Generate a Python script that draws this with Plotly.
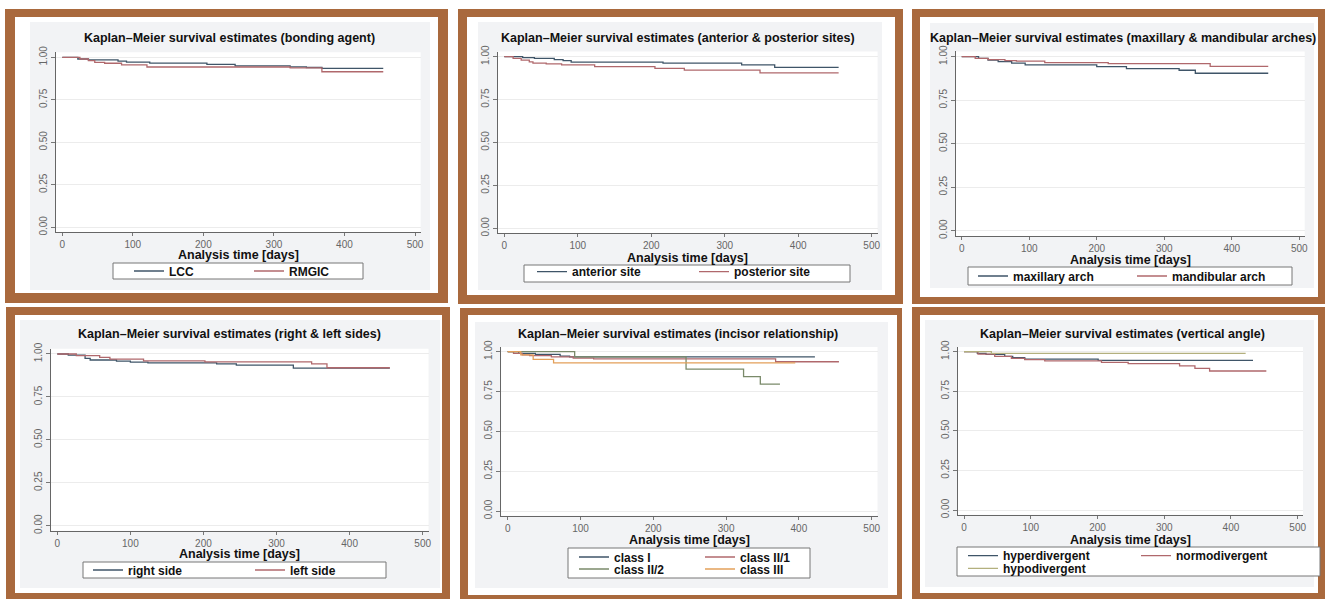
import plotly.graph_objects as go

W, H = 1325, 599

# ---------------- data ----------------
titles = [
    "Kaplan–Meier survival estimates (bonding agent)",
    "Kaplan–Meier survival estimates (anterior & posterior sites)",
    "Kaplan–Meier survival estimates (maxillary & mandibular arches)",
    "Kaplan–Meier survival estimates (right & left sides)",
    "Kaplan–Meier survival estimates (incisor relationship)",
    "Kaplan–Meier survival estimates (vertical angle)",
]
x_title = "Analysis time [days]"
x_ticks = [0, 100, 200, 300, 400, 500]
y_ticks = [0.00, 0.25, 0.50, 0.75, 1.00]

# panel 1: bonding agent
lcc_t = [0, 22, 37, 79, 91, 124, 205, 245, 323, 346, 368, 455]
lcc_s = [1.0, 0.99, 0.985, 0.978, 0.972, 0.966, 0.958, 0.95, 0.944, 0.94, 0.935, 0.935]
rmgic_t = [0, 25, 37, 46, 60, 84, 120, 323, 368, 455]
rmgic_s = [1.0, 0.99, 0.98, 0.97, 0.965, 0.955, 0.943, 0.938, 0.915, 0.915]

# panel 2: anterior & posterior sites
ant_t = [0, 25, 41, 68, 80, 91, 216, 323, 368, 455]
ant_s = [1.0, 0.995, 0.99, 0.983, 0.977, 0.968, 0.962, 0.952, 0.938, 0.938]
post_t = [0, 12, 23, 34, 39, 57, 78, 123, 205, 245, 348, 455]
post_s = [1.0, 0.99, 0.98, 0.97, 0.962, 0.958, 0.952, 0.942, 0.932, 0.922, 0.906, 0.906]

# panel 3: maxillary & mandibular arches
max_t = [0, 25, 39, 54, 74, 94, 200, 244, 322, 346, 454]
max_s = [1.0, 0.99, 0.98, 0.972, 0.963, 0.953, 0.943, 0.932, 0.922, 0.905, 0.905]
mand_t = [0, 20, 39, 64, 81, 123, 217, 368, 454]
mand_s = [1.0, 0.99, 0.983, 0.978, 0.974, 0.966, 0.96, 0.944, 0.944]

# panel 4: right & left sides
right_t = [0, 15, 38, 45, 81, 100, 124, 218, 245, 323, 455]
right_s = [1.0, 0.993, 0.975, 0.965, 0.958, 0.953, 0.948, 0.943, 0.935, 0.918, 0.918]
left_t = [0, 26, 58, 72, 118, 202, 348, 369, 455]
left_s = [1.0, 0.99, 0.98, 0.97, 0.96, 0.954, 0.943, 0.92, 0.92]

# panel 5: incisor relationship
c1_t = [0, 15, 38, 72, 85, 422]
c1_s = [1.0, 0.99, 0.983, 0.972, 0.968, 0.968]
c21_t = [0, 8, 20, 30, 60, 90, 118, 368, 455]
c21_s = [1.0, 0.99, 0.98, 0.975, 0.968, 0.96, 0.955, 0.937, 0.937]
c22_t = [0, 92, 245, 324, 347, 374]
c22_s = [1.0, 0.967, 0.89, 0.843, 0.797, 0.797]
c3_t = [0, 18, 35, 63, 395]
c3_s = [1.0, 0.98, 0.952, 0.93, 0.93]

# panel 6: vertical angle
hyper_t = [0, 20, 33, 61, 73, 91, 201, 433]
hyper_s = [1.0, 0.99, 0.983, 0.97, 0.963, 0.953, 0.945, 0.945]
normo_t = [0, 21, 46, 71, 91, 121, 206, 246, 323, 346, 368, 453]
normo_s = [1.0, 0.985, 0.97, 0.958, 0.95, 0.942, 0.932, 0.925, 0.91, 0.895, 0.878, 0.878]
hypo_t = [0, 41, 422]
hypo_s = [1.0, 0.99, 0.99]

# ---------------- styling ----------------
C_BLUE = "#3f5568"
C_RED = "#b0686c"
C_GREEN = "#7a8a6a"
C_ORANGE = "#e3a05a"
C_KHAKI = "#b3b07e"
BROWN = "#a9693d"
GRAY_BG = "#f2f3f5"
FONT = "Liberation Sans, Arial, sans-serif"

XR = [-9, 508]
YR = [-0.03, 1.03]

# axis calibration in pixels: x of day 0, x of day 500, y of 1.00, y of 0.00
calib = [
    (62.3, 415.0, 57.3, 227.3),
    (504.3, 871.7, 56.7, 228.3),
    (961.7, 1299.3, 56.7, 230.7),
    (57.3, 422.7, 354.0, 525.7),
    (507.7, 871.7, 351.7, 511.0),
    (964.0, 1297.7, 351.7, 510.0),
]
frames_outer = [(5, 9, 448, 303), (458, 9, 903, 304), (912, 9, 1330, 304),
                (6, 307, 450, 610), (460, 308, 902, 610), (912, 307, 1330, 610)]
frames_inner = [(15, 17, 438, 293), (467, 17, 895, 295), (920, 17, 1318, 297),
                (15, 315, 442, 593), (468, 315, 897, 595), (920, 315, 1318, 593)]
gray_regions = [(30, 22, 430, 290), (478, 22, 882, 290), (930, 23, 1314, 288),
                (20, 320, 440, 588), (475, 322, 888, 588), (925, 320, 1314, 587)]
title_pos = [(229.7, 38.3), (678, 38.3), (1122.5, 38), (229.7, 334.3), (678.3, 334.3), (1122, 334)]
xtitle_y = [255.0, 257.5, 259.5, 554.0, 540.0, 539.5]
legend_boxes = [(113, 263, 363, 279), (524, 265, 850, 282), (968, 267, 1292, 285),
                (83, 562, 386, 578), (568, 548, 810, 578), (957, 547, 1320, 576)]
# legends: (line start px, row center px, column spacing px)
legend_rows = [
    (128, 271, 120), (531, 271.7, 162), (972, 276, 159),
    (87, 570, 162), (573, 557, 126), (573, 569, 126),
    (962, 555.7, 173), (962, 568.3, 173),
]

series = [
    # panel, legend index, name, t, s, color
    (0, 0, "LCC", lcc_t, lcc_s, C_BLUE),
    (0, 0, "RMGIC", rmgic_t, rmgic_s, C_RED),
    (1, 1, "anterior site", ant_t, ant_s, C_BLUE),
    (1, 1, "posterior site", post_t, post_s, C_RED),
    (2, 2, "maxillary arch", max_t, max_s, C_BLUE),
    (2, 2, "mandibular arch", mand_t, mand_s, C_RED),
    (3, 3, "right side", right_t, right_s, C_BLUE),
    (3, 3, "left side", left_t, left_s, C_RED),
    (4, 4, "class I", c1_t, c1_s, C_BLUE),
    (4, 4, "class II/1", c21_t, c21_s, C_RED),
    (4, 5, "class II/2", c22_t, c22_s, C_GREEN),
    (4, 5, "class III", c3_t, c3_s, C_ORANGE),
    (5, 6, "hyperdivergent", hyper_t, hyper_s, C_BLUE),
    (5, 6, "normodivergent", normo_t, normo_s, C_RED),
    (5, 7, "hypodivergent", hypo_t, hypo_s, C_KHAKI),
]


def px(x):
    return x / W


def py(y):
    return 1 - y / H


fig = go.Figure()

for (p, li, name, t, s, col) in series:
    sfx = "" if p == 0 else str(p + 1)
    lg = "legend" if li == 0 else "legend%d" % (li + 1)
    fig.add_trace(go.Scatter(
        x=t, y=s, mode="lines", name=name, line=dict(color=col, width=1.3, shape="hv"),
        xaxis="x" + sfx, yaxis="y" + sfx, legend=lg, showlegend=True,
    ))

shapes = []
annotations = []
layout = {}

for i in range(6):
    x0, x500, y1, y0 = calib[i]
    sx = (x500 - x0) / 500.0
    sy = (y0 - y1)
    left = x0 + XR[0] * sx
    right = x0 + XR[1] * sx
    top = y0 - YR[1] * sy
    bottom = y0 - YR[0] * sy
    sfx = "" if i == 0 else str(i + 1)
    layout["xaxis" + sfx] = dict(
        domain=[px(left), px(right)], range=XR, anchor="y" + sfx,
        tickvals=x_ticks, ticks="outside", ticklen=3, tickcolor="#777",
        showline=True, linecolor="#666", linewidth=1, showgrid=False, zeroline=False,
        tickfont=dict(size=10, color="#666", family=FONT), fixedrange=True,
        automargin=False,
    )
    layout["yaxis" + sfx] = dict(
        domain=[py(bottom), py(top)], range=YR, anchor="x" + sfx,
        tickvals=y_ticks, tickformat=".2f", ticks="outside", ticklen=4, tickcolor="#777",
        showline=True, linecolor="#666", linewidth=1, showgrid=True, gridcolor="#ececec",
        zeroline=False, tickangle=-90, automargin=False,
        tickfont=dict(size=10, color="#666", family=FONT), fixedrange=True,
    )
    ox0, oy0, ox1, oy1 = frames_outer[i]
    shapes.append(dict(type="rect", xref="paper", yref="paper", layer="below",
                       x0=px(ox0), x1=px(ox1), y0=py(oy1), y1=py(oy0),
                       line=dict(width=0), fillcolor=BROWN))
    ix0, iy0, ix1, iy1 = frames_inner[i]
    shapes.append(dict(type="rect", xref="paper", yref="paper", layer="below",
                       x0=px(ix0), x1=px(ix1), y0=py(iy1), y1=py(iy0),
                       line=dict(width=0), fillcolor="white"))
    gx0, gy0, gx1, gy1 = gray_regions[i]
    shapes.append(dict(type="rect", xref="paper", yref="paper", layer="below",
                       x0=px(gx0), x1=px(gx1), y0=py(gy1), y1=py(gy0),
                       line=dict(width=0), fillcolor=GRAY_BG))
    shapes.append(dict(type="rect", xref="x" + sfx + " domain", yref="y" + sfx + " domain",
                       layer="below", x0=0, x1=1, y0=0, y1=1,
                       line=dict(width=0), fillcolor="white"))
    bx0, by0, bx1, by1 = legend_boxes[i]
    shapes.append(dict(type="rect", xref="paper", yref="paper", layer="below",
                       x0=px(bx0), x1=px(bx1), y0=py(by1), y1=py(by0),
                       line=dict(width=1, color="#777"), fillcolor="white"))
    tx, ty = title_pos[i]
    annotations.append(dict(text=titles[i], x=px(tx), y=py(ty), xref="paper", yref="paper",
                            xanchor="center", yanchor="middle", showarrow=False,
                            font=dict(size=12.5, color="#111", family=FONT, weight="bold")))
    annotations.append(dict(text=x_title, x=px((left + right) / 2), y=py(xtitle_y[i]),
                            xref="paper", yref="paper", xanchor="center", yanchor="middle",
                            showarrow=False,
                            font=dict(size=12.5, color="#111", family=FONT, weight="bold")))

for j, (lx, ly, spacing) in enumerate(legend_rows):
    key = "legend" if j == 0 else "legend%d" % (j + 1)
    layout[key] = dict(
        x=px(lx + 1), y=py(ly), xanchor="left", yanchor="middle", orientation="h",
        bgcolor="rgba(0,0,0,0)", borderwidth=0, entrywidth=spacing - 45,
        entrywidthmode="pixels", font=dict(size=12, color="#111", family=FONT, weight="bold"),
        itemclick=False, itemdoubleclick=False,
    )

fig.update_layout(
    width=W, height=H, margin=dict(l=0, r=0, t=0, b=0, autoexpand=False),
    paper_bgcolor="white", plot_bgcolor="rgba(0,0,0,0)",
    shapes=shapes, annotations=annotations, showlegend=True,
    font=dict(family=FONT), **layout,
)

fig.write_html(
    "out.html",
    config={"displayModeBar": False, "staticPlot": False},
    post_script="document.body.style.margin='0';document.body.style.overflow='hidden';",
)
